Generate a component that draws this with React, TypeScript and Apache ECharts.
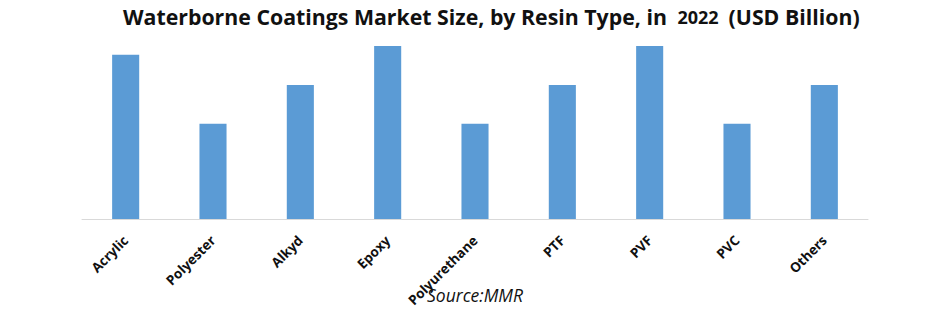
import React, { useEffect, useRef } from "react";
import * as echarts from "echarts";

const categories = ["Acrylic", "Polyester", "Alkyd", "Epoxy", "Polyurethane", "PTF", "PVF", "PVC", "Others"];
const values = [1.9, 1.1, 1.55, 2.0, 1.1, 1.55, 2.0, 1.1, 1.55];
const titleText = "Waterborne Coatings Market Size, by Resin Type, in ";
const titleYear = "2022";
const titleUnit = "(USD Billion)";
const sourceText = "Source:MMR";

export default function App() {
  const ref = useRef<HTMLDivElement>(null);
  useEffect(() => {
    if (!ref.current) return;
    const chart = echarts.init(ref.current, null, { renderer: "svg" });
    chart.setOption({
      animation: false,
      backgroundColor: "#ffffff",
      title: {
        text: `{a|${titleText}} {b|${titleYear}}  {a|${titleUnit}}`,
        left: 118,
        top: 1,
        textStyle: {
          rich: {
            a: { fontFamily: "Open Sans", fontWeight: "bold", fontSize: 21.3, color: "#111111" },
            b: { fontFamily: "Open Sans", fontWeight: "bold", fontSize: 18, color: "#111111" },
          },
        },
      },
      graphic: [
        {
          type: "text",
          left: 427,
          top: 286,
          style: {
            text: sourceText,
            fontFamily: "Open Sans",
            fontStyle: "italic",
            fontSize: 17.5,
            fill: "#111111",
          },
        },
      ],
      grid: { left: 82, right: 73, top: 46, bottom: 95 },
      xAxis: {
        type: "category",
        data: categories,
        axisLine: { show: true, lineStyle: { color: "#D9D9D9", width: 1 } },
        axisTick: { show: false },
        axisLabel: {
          rotate: 45,
          margin: 19,
          fontFamily: "Open Sans",
          fontWeight: "bold",
          fontSize: 13.5,
          color: "#111111",
          interval: 0,
        },
      },
      yAxis: {
        type: "value",
        min: 0,
        max: 2.0,
        show: false,
        splitLine: { show: false },
      },
      series: [
        {
          type: "bar",
          data: values,
          barWidth: "31%",
          itemStyle: { color: "#5B9BD5" },
        },
      ],
    });
    return () => chart.dispose();
  }, []);
  return <div ref={ref} style={{ position: "fixed", left: 0, top: 0, width: 941, height: 314 }} />;
}
